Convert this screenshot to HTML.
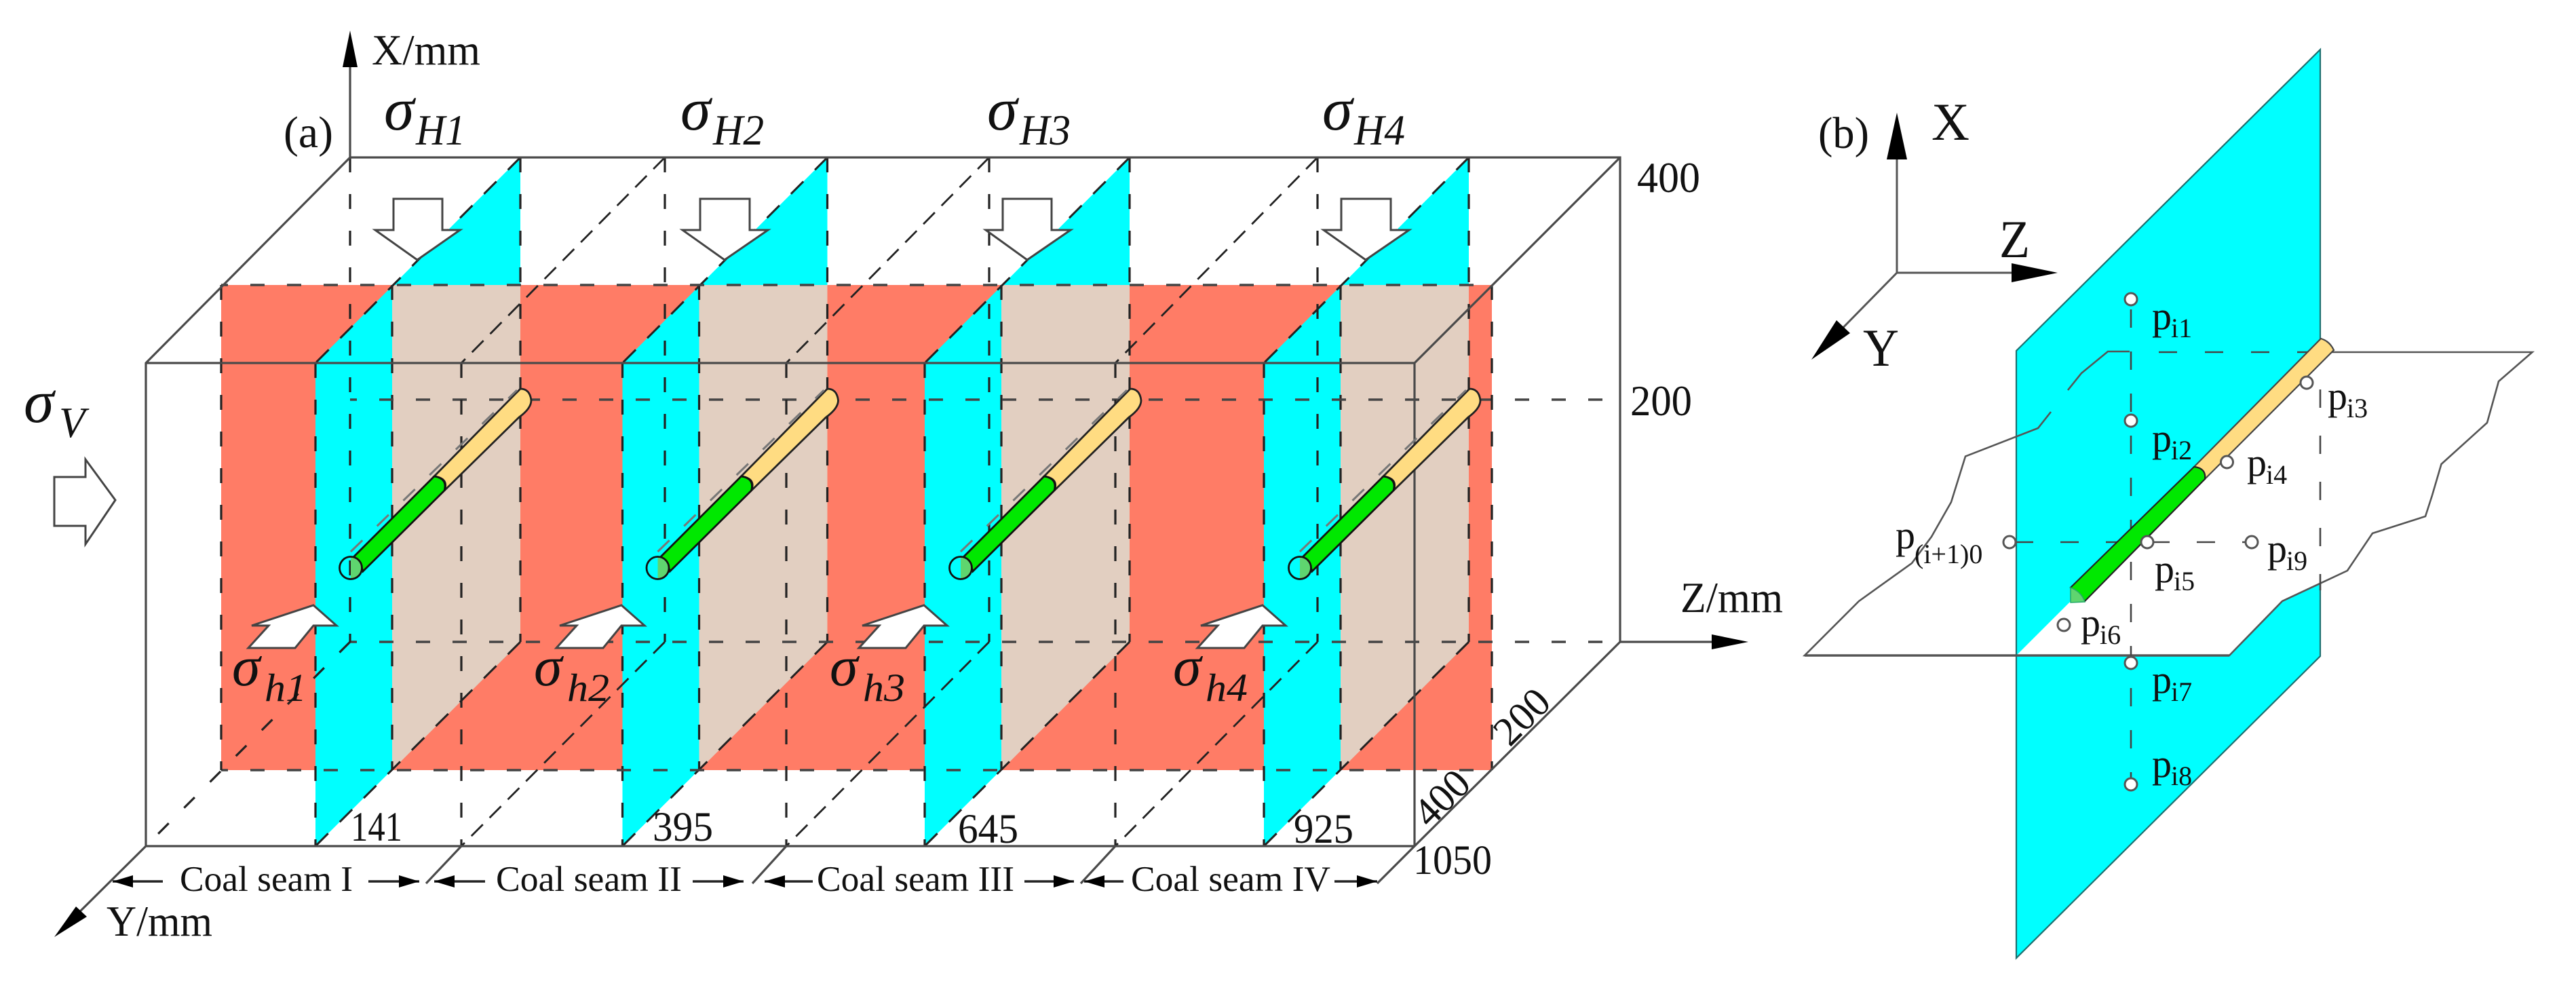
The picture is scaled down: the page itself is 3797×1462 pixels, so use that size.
<!DOCTYPE html>
<html>
<head>
<meta charset="utf-8">
<title>Coal seam model diagram</title>
<style>
html,body{margin:0;padding:0;background:#fff;}
svg{display:block;}
text{font-family:"Liberation Serif",serif;fill:#111;}
.it{font-style:italic;}
.s{stroke:#4a4a4a;stroke-width:3.2;fill:none;}
.d{stroke:#222;stroke-width:3.2;fill:none;stroke-dasharray:22 32;}
.h{stroke:#444;stroke-width:3.4;fill:none;stroke-dasharray:21 33;stroke-dashoffset:11;}
.g{stroke:#222;stroke-width:2.8;fill:none;stroke-dasharray:24 14;}
.p{stroke:#222;stroke-width:3;fill:none;stroke-dasharray:26 24;}
.a{fill:#fff;stroke:#444;stroke-width:3;}
.c{fill:#fff;stroke:#555;stroke-width:3;}
.b{stroke:#555;stroke-width:2.6;fill:none;}
.bd{stroke:#444;stroke-width:2.6;fill:none;}
.m{stroke:#777;stroke-width:3;fill:none;stroke-dasharray:24 30;}
</style>
</head>
<body>
<svg xmlns="http://www.w3.org/2000/svg" width="3797" height="1462" viewBox="0 0 3797 1462">
<rect x="0" y="0" width="3797" height="1462" fill="#fff"/>

<g>
  <rect x="326" y="420" width="1873" height="715" fill="#ff7c66"/>

  <g>
    <polygon points="767,232 465,535 465,1247 767,946" fill="#00ffff"/>
    <polygon points="578,420 767,420 767,946 578,1135" fill="#e2cfc1"/>
    <path class="d" d="M767,232V946M465,535V1247M578,420V1135"/>
    <path class="p" d="M767,946L465,1247M767,232L465,535"/>
  </g>
  <g transform="translate(452.5,0)">
    <polygon points="767,232 465,535 465,1247 767,946" fill="#00ffff"/>
    <polygon points="578,420 767,420 767,946 578,1135" fill="#e2cfc1"/>
    <path class="d" d="M767,232V946M465,535V1247M578,420V1135"/>
    <path class="p" d="M767,946L465,1247M767,232L465,535"/>
  </g>
  <g transform="translate(898,0)">
    <polygon points="767,232 465,535 465,1247 767,946" fill="#00ffff"/>
    <polygon points="578,420 767,420 767,946 578,1135" fill="#e2cfc1"/>
    <path class="d" d="M767,232V946M465,535V1247M578,420V1135"/>
    <path class="p" d="M767,946L465,1247M767,232L465,535"/>
  </g>
  <g transform="translate(1398,0)">
    <polygon points="767,232 465,535 465,1247 767,946" fill="#00ffff"/>
    <polygon points="578,420 767,420 767,946 578,1135" fill="#e2cfc1"/>
    <path class="d" d="M767,232V946M465,535V1247M578,420V1135"/>
    <path class="p" d="M767,946L465,1247M767,232L465,535"/>
  </g>

  <g>
    <path class="h" d="M326,420H2199M326,1135H2199M516,589H2388M516,946H2388"/>
    <path class="d" d="M326,420V1135M2199,420V1135M516,232V946M680,535V1247M980,232V946M1159,535V1247M1458,232V946M1644,535V1247M1942,232V946"/>
    <path class="g" d="M980,232L680,535M980,946L680,1247M1458,232L1159,535M1458,946L1159,1247M1942,232L1644,535M1942,946L1644,1247"/>
    <path class="d" d="M516,946L215,1247"/>
  </g>
  <path class="s" d="M516,232H2388V946L2085,1247H215V535L516,232M215,535H2085V1247M2085,535L2388,232M680,1247L628,1302M1159,1247L1109,1302M1644,1247L1593,1302M2085,1247L2030,1302M215,1247L95,1366M516,232V60M2388,946H2530"/>
  <polygon points="516,45 505,99 527,99" fill="#000"/>
  <polygon points="2577,946 2523,935 2523,957" fill="#000"/>
  <polygon points="80,1381 112,1336 128,1351" fill="#000"/>

  <g>
    <path d="M767,573Q781,573 783,590Q783,602 765,615L655,723Q662,705 640,702Z" fill="#ffdc82" stroke="#222" stroke-width="2.8"/>
    <path d="M640,702Q660,705 655,723L535,842Q530,825 520,822Z" fill="#00e800" stroke="#111" stroke-width="2.8"/>
    <path d="M517,821A16.5,16.5 0 0 1 533,837Q533,848 517,854Z" fill="#5fd56f"/>
    <circle cx="517" cy="837" r="16.5" fill="none" stroke="#111" stroke-width="2.8"/>
    <path class="m" d="M517,813L762,575"/>
  </g>
  <g transform="translate(452.5,0)">
    <path d="M767,573Q781,573 783,590Q783,602 765,615L655,723Q662,705 640,702Z" fill="#ffdc82" stroke="#222" stroke-width="2.8"/>
    <path d="M640,702Q660,705 655,723L535,842Q530,825 520,822Z" fill="#00e800" stroke="#111" stroke-width="2.8"/>
    <path d="M517,821A16.5,16.5 0 0 1 533,837Q533,848 517,854Z" fill="#5fd56f"/>
    <circle cx="517" cy="837" r="16.5" fill="none" stroke="#111" stroke-width="2.8"/>
    <path class="m" d="M517,813L762,575"/>
  </g>
  <g transform="translate(899,0)">
    <path d="M767,573Q781,573 783,590Q783,602 765,615L655,723Q662,705 640,702Z" fill="#ffdc82" stroke="#222" stroke-width="2.8"/>
    <path d="M640,702Q660,705 655,723L535,842Q530,825 520,822Z" fill="#00e800" stroke="#111" stroke-width="2.8"/>
    <path d="M517,821A16.5,16.5 0 0 1 533,837Q533,848 517,854Z" fill="#5fd56f"/>
    <circle cx="517" cy="837" r="16.5" fill="none" stroke="#111" stroke-width="2.8"/>
    <path class="m" d="M517,813L762,575"/>
  </g>
  <g transform="translate(1399,0)">
    <path d="M767,573Q781,573 783,590Q783,602 765,615L655,723Q662,705 640,702Z" fill="#ffdc82" stroke="#222" stroke-width="2.8"/>
    <path d="M640,702Q660,705 655,723L535,842Q530,825 520,822Z" fill="#00e800" stroke="#111" stroke-width="2.8"/>
    <path d="M517,821A16.5,16.5 0 0 1 533,837Q533,848 517,854Z" fill="#5fd56f"/>
    <circle cx="517" cy="837" r="16.5" fill="none" stroke="#111" stroke-width="2.8"/>
    <path class="m" d="M517,813L762,575"/>
  </g>

  <polygon class="a" points="580,293 652,293 652,339 678,339 615,383 553,339 580,339"/>
  <polygon class="a" points="1032,293 1105,293 1105,339 1132,339 1068,383 1006,339 1032,339"/>
  <polygon class="a" points="1478,293 1550,293 1550,339 1578,339 1514,383 1453,339 1478,339"/>
  <polygon class="a" points="1977,293 2050,293 2050,339 2077,339 2013,383 1951,339 1977,339"/>
  <polygon class="a" points="80,703 126,703 126,677 170,737 126,802 126,775 80,775"/>
  <polygon class="a" points="462,892 496,922 462,922 435,955 366,955 396,922 371,922"/>
  <polygon class="a" transform="translate(454,0)" points="462,892 496,922 462,922 435,955 366,955 396,922 371,922"/>
  <polygon class="a" transform="translate(900,0)" points="462,892 496,922 462,922 435,955 366,955 396,922 371,922"/>
  <polygon class="a" transform="translate(1399,0)" points="462,892 496,922 462,922 435,955 366,955 396,922 371,922"/>

  <g>
    <path stroke="#222" stroke-width="3.4" fill="none" d="M166,1299H240M543,1299H618M640,1299H715M1021,1299H1096M1127,1299H1198M1510,1299H1583M1598,1299H1656M1967,1299H2030"/>
    <path fill="#000" d="M166,1299l30,-9v18zM618,1299l-30,-9v18zM640,1299l30,-9v18zM1096,1299l-30,-9v18zM1127,1299l30,-9v18zM1583,1299l-30,-9v18zM1598,1299l30,-9v18zM2030,1299l-30,-9v18z"/>
  </g>

  <text x="548" y="95" font-size="64" textLength="160" lengthAdjust="spacingAndGlyphs">X/mm</text>
  <text x="418" y="217" font-size="66" textLength="73" lengthAdjust="spacingAndGlyphs">(a)</text>
  <text x="2477" y="902" font-size="64" textLength="151" lengthAdjust="spacingAndGlyphs">Z/mm</text>
  <text x="157" y="1379" font-size="64" textLength="156" lengthAdjust="spacingAndGlyphs">Y/mm</text>

  <g>
    <text class="it" x="566" y="191" font-size="90">σ</text>
    <text class="it" x="613" y="213" font-size="63" textLength="73" lengthAdjust="spacingAndGlyphs">H1</text>
    <text class="it" x="1003" y="191" font-size="90">σ</text>
    <text class="it" x="1051" y="213" font-size="63" textLength="75" lengthAdjust="spacingAndGlyphs">H2</text>
    <text class="it" x="1455" y="191" font-size="90">σ</text>
    <text class="it" x="1503" y="213" font-size="63" textLength="75" lengthAdjust="spacingAndGlyphs">H3</text>
    <text class="it" x="1949" y="191" font-size="90">σ</text>
    <text class="it" x="1996" y="213" font-size="63" textLength="75" lengthAdjust="spacingAndGlyphs">H4</text>
    <text class="it" x="35" y="622" font-size="90">σ</text>
    <text class="it" x="87" y="644" font-size="63">V</text>
    <text class="it" x="342" y="1010" font-size="84">σ</text>
    <text class="it" x="390" y="1033" font-size="58" textLength="62" lengthAdjust="spacingAndGlyphs">h1</text>
    <text class="it" x="787" y="1010" font-size="84">σ</text>
    <text class="it" x="836" y="1033" font-size="58" textLength="62" lengthAdjust="spacingAndGlyphs">h2</text>
    <text class="it" x="1223" y="1010" font-size="84">σ</text>
    <text class="it" x="1272" y="1033" font-size="58" textLength="62" lengthAdjust="spacingAndGlyphs">h3</text>
    <text class="it" x="1729" y="1010" font-size="84">σ</text>
    <text class="it" x="1777" y="1033" font-size="58" textLength="62" lengthAdjust="spacingAndGlyphs">h4</text>
  </g>

  <g>
    <text x="517" y="1239" font-size="61" textLength="76" lengthAdjust="spacingAndGlyphs">141</text>
    <text x="962" y="1239" font-size="61" textLength="89" lengthAdjust="spacingAndGlyphs">395</text>
    <text x="1412" y="1242" font-size="61" textLength="89" lengthAdjust="spacingAndGlyphs">645</text>
    <text x="1907" y="1242" font-size="61" textLength="88" lengthAdjust="spacingAndGlyphs">925</text>
    <text x="2083" y="1288" font-size="61" textLength="116" lengthAdjust="spacingAndGlyphs">1050</text>
    <text x="2413" y="283" font-size="64" textLength="93" lengthAdjust="spacingAndGlyphs">400</text>
    <text x="2403" y="612" font-size="64" textLength="91" lengthAdjust="spacingAndGlyphs">200</text>
    <text x="2243" y="1056" font-size="60" text-anchor="middle" transform="rotate(-45 2243 1056) translate(0 20)">200</text>
    <text x="2125" y="1176" font-size="60" text-anchor="middle" transform="rotate(-45 2125 1176) translate(0 20)">400</text>
    <text x="265" y="1313" font-size="53" textLength="255" lengthAdjust="spacingAndGlyphs">Coal seam I</text>
    <text x="731" y="1313" font-size="53" textLength="274" lengthAdjust="spacingAndGlyphs">Coal seam II</text>
    <text x="1204" y="1313" font-size="53" textLength="291" lengthAdjust="spacingAndGlyphs">Coal seam III</text>
    <text x="1667" y="1313" font-size="53" textLength="294" lengthAdjust="spacingAndGlyphs">Coal seam IV</text>
  </g>
</g>

<g>
  <polygon points="3420,73 2972,517 2972,1412 3420,967" fill="#00ffff" stroke="#1d6f6f" stroke-width="2.2"/>
  <polygon points="3420,519 3732.5,519 3683,562 3666,623 3598.5,684 3585,730 3575,761 3497,786 3460,841 3364,886 3286,966 2972,966" fill="#fff"/>
  <path class="b" d="M3420,519H3732.5L3683,562L3666,623L3598.5,684L3585,730L3575,761L3497,786L3460,841L3364,886L3286,966H2660L2740,886L2818,830L2847,791L2876,740L2897,672.6L3004,631L3023,607M3048,575L3068,550L3107,518H3139"/>
  <path d="M2660,966H3286" stroke="#555" stroke-width="3.5" fill="none"/>
  <g>
    <path class="bd" stroke-dasharray="27 41" d="M3182,519H3420"/>
    <path class="bd" stroke-dasharray="27 41" d="M3420,574V870"/>
    <path class="bd" stroke-dasharray="27 40" d="M2970,799H3319"/>
    <path class="bd" stroke-dasharray="27 35" d="M3141,456V1155"/>
  </g>

  <g>
    <path d="M3421,499Q3434,503 3440,516L3250,706Q3252,690 3234,688Z" fill="#ffdc82" stroke="#444" stroke-width="2.2"/>
    <path d="M3234,688Q3252,690 3250,706L3073,886L3052,866Z" fill="#00e800" stroke="#222" stroke-width="2.2"/>
    <path d="M3052,866Q3068,872 3073,887L3052,888Z" fill="#5fd56f" stroke="#2a6" stroke-width="1.5"/>
  </g>

  <g>
    <path d="M2796,235V402H2970M2796,402L2690,510" fill="none" stroke="#555" stroke-width="3"/>
    <polygon points="2796,166 2781,235 2811,235" fill="#000"/>
    <polygon points="3033,402 2965,388 2965,416" fill="#000"/>
    <polygon points="2670,530 2707,472 2727,491" fill="#000"/>
  </g>

  <g>
    <circle class="c" cx="3141" cy="441" r="9"/>
    <circle class="c" cx="3141" cy="620" r="9"/>
    <circle class="c" cx="3400" cy="564" r="9"/>
    <circle class="c" cx="3282.5" cy="681" r="9"/>
    <circle class="c" cx="3165" cy="799" r="9"/>
    <circle class="c" cx="3042" cy="921" r="9"/>
    <circle class="c" cx="3141" cy="977" r="9"/>
    <circle class="c" cx="3141" cy="1156" r="9"/>
    <circle class="c" cx="3319" cy="799" r="9"/>
    <circle class="c" cx="2962" cy="799" r="9"/>
  </g>

  <text x="2680" y="218" font-size="66" textLength="75" lengthAdjust="spacingAndGlyphs">(b)</text>
  <text x="2847" y="206" font-size="78" textLength="56" lengthAdjust="spacingAndGlyphs">X</text>
  <text x="2947" y="379" font-size="78" textLength="45" lengthAdjust="spacingAndGlyphs">Z</text>
  <text x="2746" y="539" font-size="78" textLength="53" lengthAdjust="spacingAndGlyphs">Y</text>

  <g>
    <text><tspan x="3172" y="485" font-size="58">p</tspan><tspan x="3200" y="497" font-size="40">i1</tspan></text>
    <text><tspan x="3172" y="665" font-size="58">p</tspan><tspan x="3200" y="677" font-size="40">i2</tspan></text>
    <text><tspan x="3431" y="603" font-size="58">p</tspan><tspan x="3459" y="615" font-size="40">i3</tspan></text>
    <text><tspan x="3312" y="701" font-size="58">p</tspan><tspan x="3340" y="713" font-size="40">i4</tspan></text>
    <text><tspan x="3176" y="858" font-size="58">p</tspan><tspan x="3204" y="870" font-size="40">i5</tspan></text>
    <text><tspan x="3067" y="937" font-size="58">p</tspan><tspan x="3095" y="949" font-size="40">i6</tspan></text>
    <text><tspan x="3172" y="1021" font-size="58">p</tspan><tspan x="3200" y="1033" font-size="40">i7</tspan></text>
    <text><tspan x="3172" y="1145" font-size="58">p</tspan><tspan x="3200" y="1157" font-size="40">i8</tspan></text>
    <text><tspan x="3342" y="828" font-size="58">p</tspan><tspan x="3370" y="840" font-size="40">i9</tspan></text>
    <text><tspan x="2794" y="808" font-size="58">p</tspan><tspan x="2822" y="830" font-size="40">(i+1)0</tspan></text>
  </g>
</g>
</svg>
</body>
</html>
